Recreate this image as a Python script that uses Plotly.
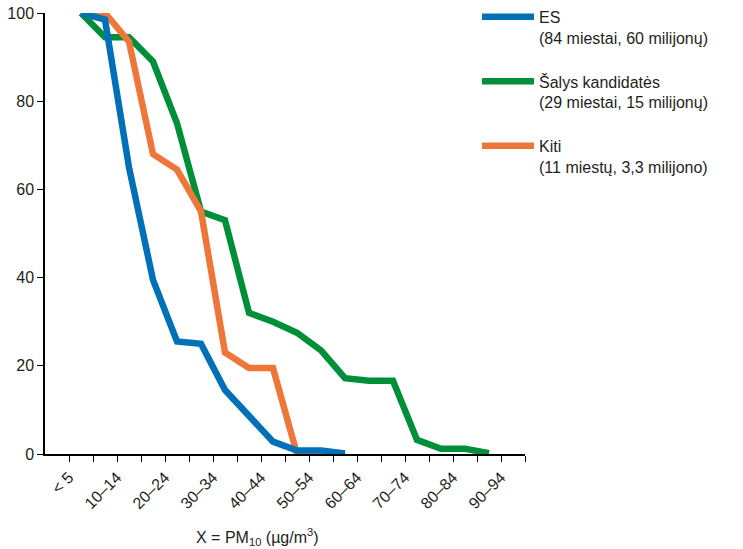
import numpy as np
import plotly.graph_objects as go

# Category bins of PM10 concentration (µg/m3)
categories = ["< 5", "5–9", "10–14", "15–19", "20–24", "25–29", "30–34", "35–39",
              "40–44", "45–49", "50–54", "55–59", "60–64", "65–69", "70–74",
              "75–79", "80–84", "85–89", "90–94", "95–99"]
# only every second bin is labelled
label_idx = [i for i in range(len(categories)) if i % 2 == 0]
minor_idx = [i for i in range(len(categories)) if i % 2 == 1]
tick_labels = [categories[i] for i in label_idx]

# Series values (% of population), plotted at bin boundaries
es_values = [100, 98.5, 65, 39.5, 25.5, 25, 14.5, 8.5, 2.8, 0.8, 0.8, 0.1]
cand_values = [100, 94.5, 94.5, 89, 75, 55, 53, 32, 30, 27.5, 23.5, 17.2,
               16.6, 16.6, 3.2, 1.2, 1.2, 0.2]
other_values = [100, 100, 93.5, 68, 64.5, 55, 23, 19.5, 19.5, 0, 0, 0]

series_names = ["ES<br>(84 miestai, 60 milijonų)",
                "Šalys kandidatės<br>(29 miestai, 15 milijonų)",
                "Kiti<br>(11 miestų, 3,3 milijono)"]
colors = {"es": "#0071b7", "cand": "#008f39", "other": "#ee7638"}

FONT = "Liberation Sans"
TXT = "#231f20"

fig = go.Figure()
# draw order: green, orange, blue (blue on top)
order = [
    ("cand", cand_values, series_names[1], 2),
    ("other", other_values, series_names[2], 3),
    ("es", es_values, series_names[0], 1),
]
for key, vals, name, rank in order:
    x = np.arange(len(vals)) + 0.5
    fig.add_trace(go.Scatter(
        x=x, y=vals, mode="lines", name=name,
        line=dict(color=colors[key], width=6.5),
        cliponaxis=False, legendrank=rank, legendgroup=key,
    ))

fig.update_layout(
    width=743, height=549,
    margin=dict(l=45, r=218, t=13, b=95, autoexpand=False),
    paper_bgcolor="white", plot_bgcolor="white",
    font=dict(family=FONT, size=16, color=TXT),
    showlegend=True,
    legend=dict(
        x=0.9, y=1.03, xanchor="left", yanchor="top",
        valign="top", tracegroupgap=20, itemwidth=52,
        font=dict(family=FONT, size=16, color=TXT),
        bgcolor="rgba(0,0,0,0)",
    ),
    xaxis=dict(
        range=[-1, 19], tickmode="array",
        tickvals=label_idx, ticktext=tick_labels,
        tickangle=-45, ticks="outside", ticklen=6, tickwidth=1.2,
        tickcolor="black", showline=True, linecolor="black", linewidth=1.5,
        showgrid=False, zeroline=False,
        tickfont=dict(family=FONT, size=16, color=TXT),
        minor=dict(tickmode="array", tickvals=minor_idx, ticks="outside",
                   ticklen=6, tickwidth=1.2, tickcolor="black", showgrid=False),
    ),
    yaxis=dict(
        range=[0, 100], tickmode="array", tickvals=[0, 20, 40, 60, 80, 100],
        ticks="outside", ticklen=6, tickwidth=1.2, tickcolor="black",
        showline=True, linecolor="black", linewidth=1.5,
        showgrid=False, zeroline=False,
        tickfont=dict(family=FONT, size=16, color=TXT),
    ),
    annotations=[dict(
        text="X = PM<sub>10</sub> (µg/m<sup>3</sup>)",
        xref="paper", yref="paper", x=0.442, y=-0.188,
        xanchor="center", yanchor="middle", showarrow=False,
        font=dict(family=FONT, size=16, color=TXT),
    )],
)

fig.write_html("out.html")
